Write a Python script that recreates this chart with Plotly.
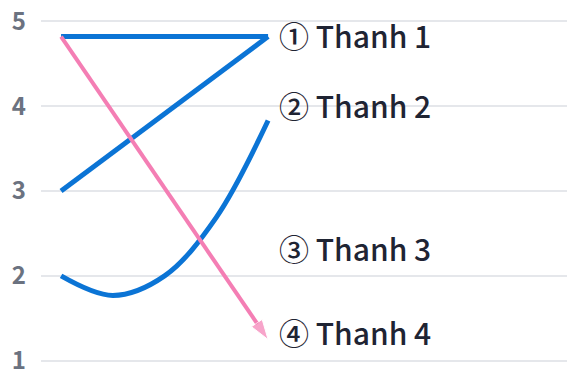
import plotly.graph_objects as go

BLUE = "#0B74D5"
PINK = "#F47EB4"
TEXT = "#1F2433"
TICK = "#6B7280"
GRID = "#E5E7EB"
FONT = "Noto Sans CJK JP, Noto Sans, sans-serif"
LABEL_FONT = "Noto Sans CJK JP Medium, Noto Sans CJK JP, sans-serif"

# series values
x_pair = [0, 1]
thanh1 = [4.82, 4.82]
thanh2 = [3.0, 4.82]
x_curve = [0, 0.25, 0.5, 0.75, 1]
thanh3 = [2.0, 1.77, 2.0, 2.69, 3.83]
thanh4 = [4.82, 1.25]

labels = ["① Thanh 1", "② Thanh 2", "③ Thanh 3", "④ Thanh 4"]
label_y = [4.84, 4.01, 2.33, 1.34]
label_x = 1.043

y_ticks = [1, 2, 3, 4, 5]

fig = go.Figure()
fig.add_trace(go.Scatter(x=x_pair, y=thanh1, mode="lines",
                         line=dict(color=BLUE, width=5)))
fig.add_trace(go.Scatter(x=x_pair, y=thanh2, mode="lines",
                         line=dict(color=BLUE, width=5)))
fig.add_trace(go.Scatter(x=x_curve, y=thanh3, mode="lines",
                         line=dict(color=BLUE, width=5, shape="spline", smoothing=1.0)))
fig.add_trace(go.Scatter(x=x_pair, y=thanh4, mode="lines+markers",
                         line=dict(color=PINK, width=4),
                         marker=dict(symbol="arrow", size=[0, 21], color=PINK,
                                     angleref="previous")))

for text, y in zip(labels, label_y):
    fig.add_annotation(x=label_x, y=y, text=text, showarrow=False,
                       xanchor="left", yanchor="middle",
                       font=dict(family=LABEL_FONT, size=30, color=TEXT))

fig.update_layout(
    width=567, height=371,
    font=dict(family=FONT, size=13),
    plot_bgcolor="white",
    paper_bgcolor="white",
    margin=dict(l=41, r=0, t=17, b=6),
    showlegend=False,
    xaxis=dict(range=[-0.097, 2.444], showgrid=False, zeroline=False,
               showticklabels=False, fixedrange=True),
    yaxis=dict(range=[0.95, 5.05], tickvals=y_ticks, gridcolor=GRID, gridwidth=1.5,
               zeroline=False, ticks="", ticklabelstandoff=14, automargin=False,
               ticklabeloverflow="allow",
               tickfont=dict(family=FONT, size=24, color=TICK, weight="bold")),
)

# drop the browser's default 8px body margin so the plot sits at the window corner
fig.write_html("out.html", config={"displayModeBar": False},
               post_script="document.body.style.margin='0';")
